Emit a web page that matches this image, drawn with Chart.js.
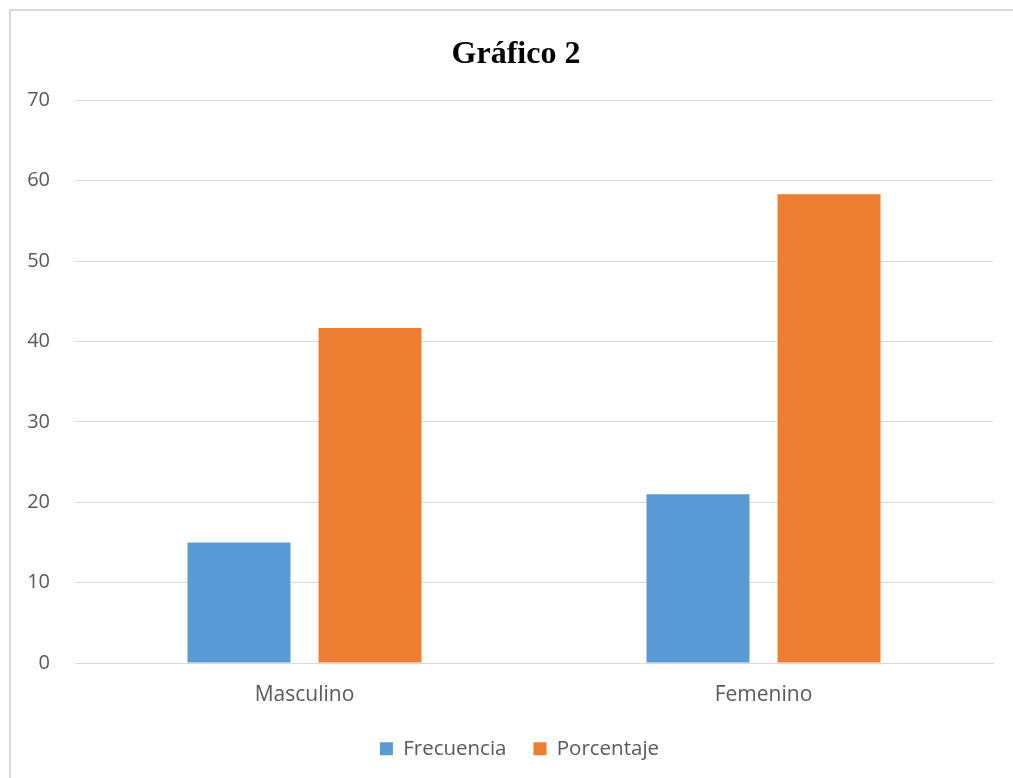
<!DOCTYPE html>
<html>
<head>
<meta charset="utf-8">
<script src="https://cdn.jsdelivr.net/npm/chart.js@4"></script>
<style>
html,body{margin:0;padding:0;background:#fff;}
#wrap{position:relative;width:1013px;height:778px;}
</style>
</head>
<body>
<div id="wrap"><canvas id="c" width="1013" height="778"></canvas></div>
<script>
const categories = ["Masculino", "Femenino"];
const frecuencia = [15, 21];
const porcentaje = [41.67, 58.33];
const seriesNames = ["Frecuencia", "Porcentaje"];
const yTicks = [0, 10, 20, 30, 40, 50, 60, 70];

const frame = {
  id: 'frame',
  afterLayout(chart) {
    // centre the title and legend on the framed box rather than on the plot
    if (chart.titleBlock) { chart.titleBlock.left += 39; }
    if (chart.legend) {
      const lg = chart.legend;
      lg.left += 46;
      if (lg.legendHitBoxes) lg.legendHitBoxes.forEach(b => { b.left += 46; });
    }
  },
  afterDraw(chart) {
    const ctx = chart.ctx;
    ctx.save();
    ctx.strokeStyle = '#d9d9d9';
    ctx.lineWidth = 2;
    ctx.beginPath();
    ctx.moveTo(10, 778);
    ctx.lineTo(10, 10);
    ctx.lineTo(1013, 10);
    ctx.stroke();
    ctx.restore();
  }
};

new Chart(document.getElementById('c'), {
  type: 'bar',
  data: {
    labels: categories,
    datasets: [
      { label: seriesNames[0], data: frecuencia, backgroundColor: '#5B9BD5', categoryPercentage: 0.571, barPercentage: 0.786 },
      { label: seriesNames[1], data: porcentaje, backgroundColor: '#ED7D31', categoryPercentage: 0.571, barPercentage: 0.786 }
    ]
  },
  options: {
    responsive: false,
    animation: false,
    layout: { padding: { left: 0, right: 20, top: 0, bottom: 9 } },
    plugins: {
      title: {
        display: true,
        text: 'Gráfico 2',
        color: '#000',
        font: { family: '"Liberation Serif", "Times New Roman", serif', size: 32, weight: 'bold' },
        padding: { top: 36, bottom: 26 }
      },
      legend: {
        position: 'bottom',
        labels: {
          boxWidth: 13, boxHeight: 13, padding: 27,
          color: '#595959',
          font: { family: '"Open Sans", sans-serif', size: 20.5 }
        }
      },
      tooltip: { enabled: false }
    },
    scales: {
      x: {
        grid: { display: false, drawTicks: false },
        border: { display: true, color: '#d9d9d9', width: 1 },
        ticks: { color: '#595959', padding: 19, font: { family: '"Open Sans", sans-serif', size: 21 } },
        afterFit(s) { s.height = 48.5; }
      },
      y: {
        min: 0, max: 70,
        afterBuildTicks(s) { s.ticks = yTicks.map(v => ({ value: v })); },
        grid: { color: '#d9d9d9', drawTicks: false },
        border: { display: false },
        ticks: { color: '#595959', padding: 25, font: { family: '"Open Sans", sans-serif', size: 20 } },
        afterFit(s) { s.width = 75; }
      }
    }
  },
  plugins: [frame]
});
</script>
</body>
</html>
